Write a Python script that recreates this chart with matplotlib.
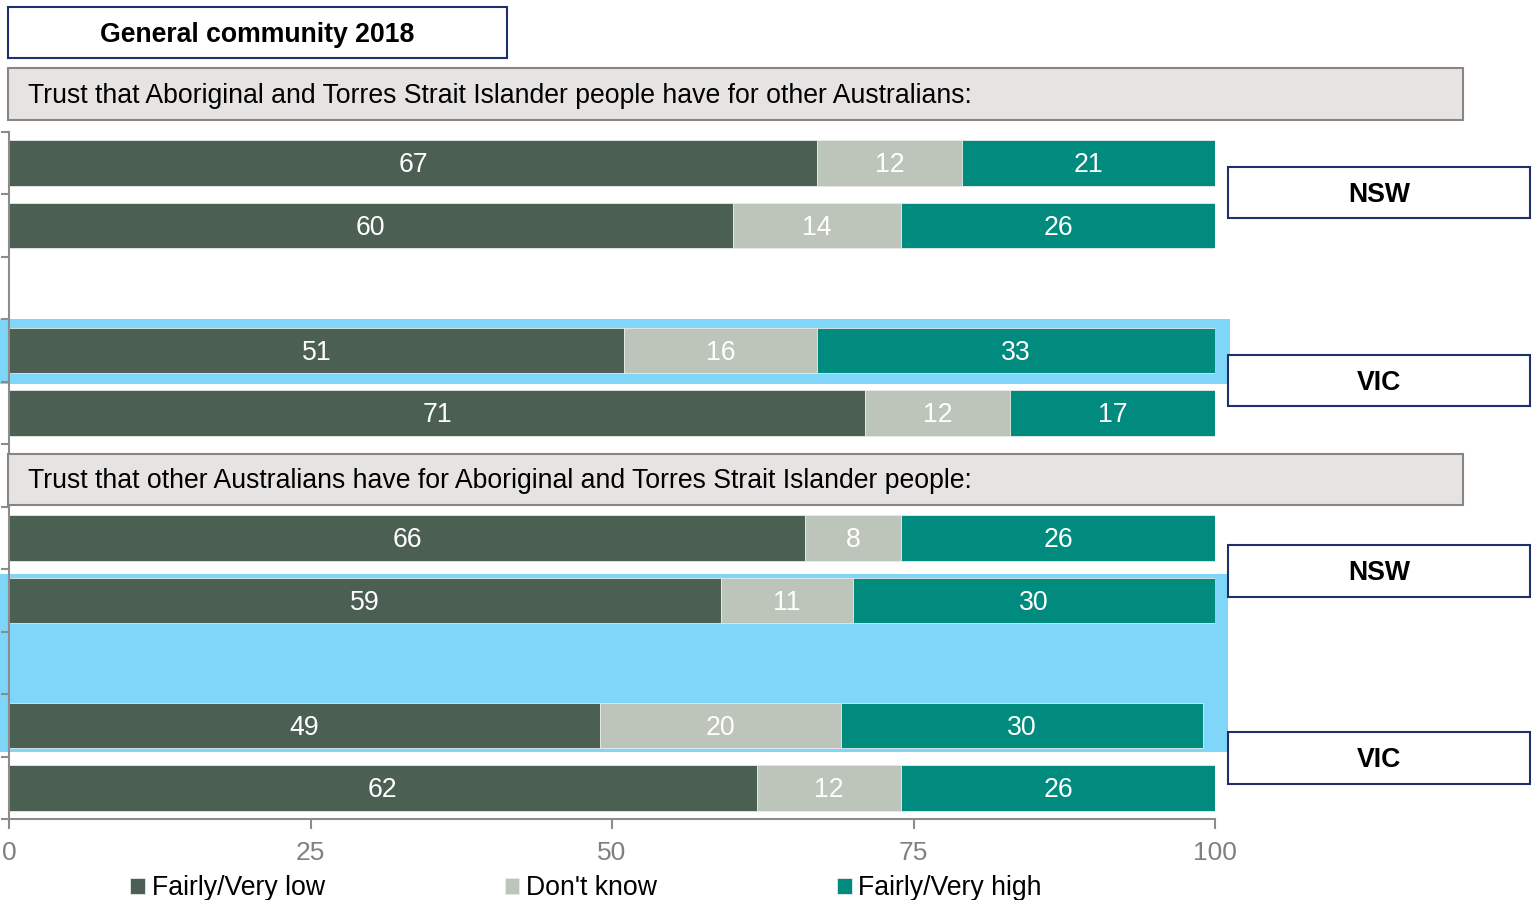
"""Stacked bar chart: trust between Aboriginal and Torres Strait Islander people and other Australians."""

import matplotlib

matplotlib.use("Agg")
import matplotlib.pyplot as plt
from matplotlib.patches import Rectangle

plt.rcParams["font.family"] = ["Liberation Sans", "DejaVu Sans"]

# rows top to bottom; slots left blank hold the gaps and the second header
slots = [0, 1, 3, 4, 6, 7, 9, 10]
low = [67, 60, 51, 71, 66, 59, 49, 62]
dont_know = [12, 14, 16, 12, 8, 11, 20, 12]
high = [21, 26, 33, 17, 26, 30, 30, 26]
series_names = ["Fairly/Very low", "Don't know", "Fairly/Very high"]
series_colors = ["#4B5F52", "#BDC4BA", "#008B7E"]

title = "General community 2018"
headers = [
    "Trust that Aboriginal and Torres Strait Islander people have for other Australians:",
    "Trust that other Australians have for Aboriginal and Torres Strait Islander people:",
]
states = ["NSW", "VIC", "NSW", "VIC"]
x_ticks = [0, 25, 50, 75, 100]

HIGHLIGHT = "#7FD6F8"
GRID_GREY = "#8C8C8C"
W, H = 1537, 900

fig = plt.figure(figsize=(W / 100, H / 100), dpi=100)
ax = fig.add_axes([9 / W, 1 - 819 / H, (1215 - 9) / W, (819 - 132) / H])


def fig_box(x0, y0, x1, y1, text, face, edge, bold=False, align="center", pad=0):
    """Box placed in pixel coordinates measured from the top-left corner."""
    rect = Rectangle((x0 / W, 1 - y1 / H), (x1 - x0) / W, (y1 - y0) / H,
                     transform=fig.transFigure, facecolor=face, edgecolor=edge,
                     linewidth=1.5, zorder=5)
    fig.add_artist(rect)
    tx = (x0 + x1) / 2 if align == "center" else x0 + pad
    fig.text(tx / W, 1 - ((y0 + y1) / 2 + 2) / H, text, ha=align, va="center",
             fontsize=19.2, fontweight="bold" if bold else "normal",
             color="black", zorder=6)


# highlight bands behind the bars
ax.add_patch(Rectangle((-0.75, 2.5), 102.0, 1.03, facecolor=HIGHLIGHT,
                       edgecolor="none", clip_on=False, zorder=0))
ax.add_patch(Rectangle((-0.75, 6.57), 101.85, 2.86, facecolor=HIGHLIGHT,
                       edgecolor="none", clip_on=False, zorder=0))

left = [0] * len(slots)
for values, name, color in zip([low, dont_know, high], series_names, series_colors):
    bars = ax.barh(slots, values, left=left, height=0.73, color=color,
                   edgecolor="#E8ECE8", linewidth=0.6, label=name, zorder=2)
    for bar, v in zip(bars, values):
        ax.text(bar.get_x() + bar.get_width() / 2,
                bar.get_y() + bar.get_height() / 2 + 0.035,
                str(v), ha="center", va="center", color="white", fontsize=19.2, zorder=3)
    left = [a + b for a, b in zip(left, values)]

ax.set_xlim(0, 100)
ax.set_ylim(10.5, -0.5)
ax.set_xticks(x_ticks)
ax.set_yticks([i - 0.5 for i in range(12)])
ax.set_yticklabels([])
ax.tick_params(axis="x", colors=GRID_GREY, labelcolor="#808080", labelsize=19,
               length=7, width=1.5, pad=9)
ax.tick_params(axis="y", colors=GRID_GREY, length=6, width=1.5)
for side in ("top", "right"):
    ax.spines[side].set_visible(False)
for side in ("left", "bottom"):
    ax.spines[side].set_color(GRID_GREY)
    ax.spines[side].set_linewidth(1.5)
ax.set_facecolor("none")

# title, section headers and state tags
fig_box(8, 7, 507, 58, title, "white", "#1F2F6B", bold=True)
fig_box(8, 68, 1463, 120, headers[0], "#E6E4E3", "#8C8480", align="left", pad=20)
fig_box(8, 454, 1463, 505, headers[1], "#E6E4E3", "#8C8480", align="left", pad=20)
for (y0, y1), state in zip([(167, 218), (355, 406), (545, 597), (732, 784)], states):
    fig_box(1228, y0, 1530, y1, state, "white", "#1F2F6B", bold=True)

fig.legend(loc="center", bbox_to_anchor=(586 / W, 1 - 888 / H), ncol=3, frameon=False,
           fontsize=19.2, handlelength=0.55, handleheight=0.55, handletextpad=0.25,
           columnspacing=6.75, borderpad=0)

fig.savefig("out.png", dpi=100)
